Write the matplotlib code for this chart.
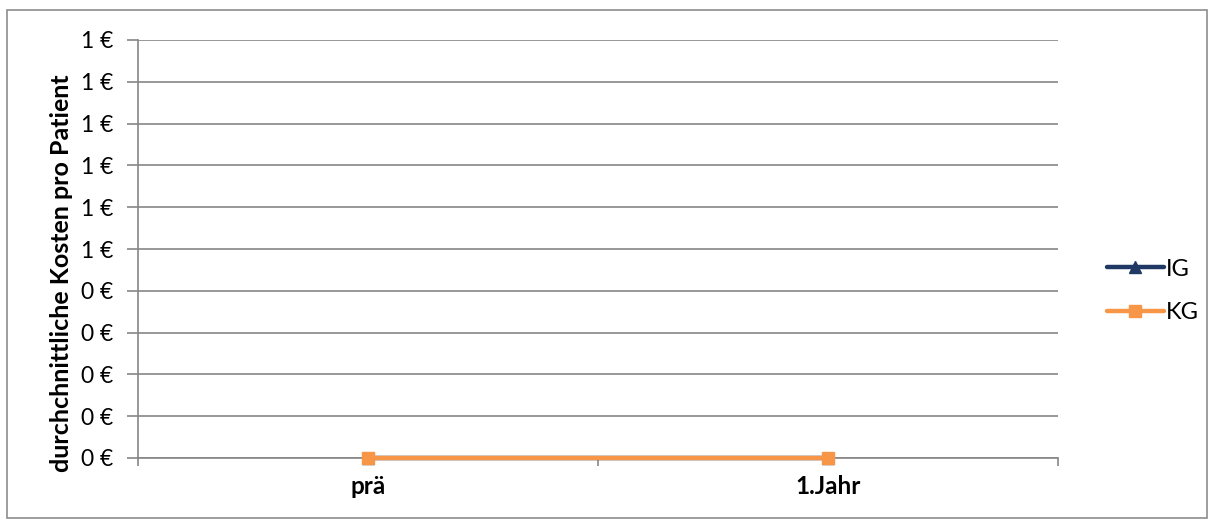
import matplotlib
matplotlib.use('Agg')
import matplotlib.pyplot as plt
from matplotlib.patches import Rectangle

plt.rcParams['font.family'] = ['Lato', 'DejaVu Sans']

categories = ['prä', '1.Jahr']
ig = [0, 0]
kg = [0, 0]
y_ticks = [0.0, 0.1, 0.2, 0.3, 0.4, 0.5, 0.6, 0.7, 0.8, 0.9, 1.0]
y_labels = ['0 €', '0 €', '0 €', '0 €', '0 €', '1 €', '1 €', '1 €', '1 €', '1 €', '1 €']

grid_col = '#868686'

fig = plt.figure(figsize=(12.13, 5.2), dpi=100)
fig.patches.append(Rectangle((7 / 1213, 2 / 520), 1200 / 1213, 508 / 520,
                             transform=fig.transFigure, fill=False,
                             edgecolor='#8c8c8c', linewidth=1.2))
ax = fig.add_axes([138 / 1213, 62 / 520, 920 / 1213, 418 / 520])

x = list(range(len(categories)))
ax.plot(x, ig, color='#1f3864', linewidth=3.2, marker='^', markersize=9,
        label='IG', zorder=3, clip_on=False, solid_capstyle='round')
ax.plot(x, kg, color='#f79646', linewidth=3.2, marker='s', markersize=9,
        label='KG', zorder=4, clip_on=False, solid_capstyle='round')

ax.set_xlim(-0.5, 1.5)
ax.set_ylim(0, 1)
ax.set_yticks(y_ticks)
ax.set_yticklabels(y_labels, fontsize=16.5)
ax.set_xticks(x)
ax.set_xticklabels(categories, fontsize=17.5, fontweight='bold')
ax.tick_params(axis='x', length=0, pad=12)
ax.set_xticks([-0.5, 0.5, 1.5], minor=True)
ax.tick_params(axis='x', which='minor', length=6, color=grid_col, width=1.2, direction='out')
ax.tick_params(axis='y', length=8, color=grid_col, width=1.2, pad=10)

ax.grid(axis='y', color=grid_col, linewidth=1.2)
ax.set_axisbelow(True)
for s in ['top', 'right']:
    ax.spines[s].set_visible(False)
for s in ['left', 'bottom']:
    ax.spines[s].set_color(grid_col)
    ax.spines[s].set_linewidth(1.2)

ax.set_ylabel('durchchnittliche Kosten pro Patient', fontsize=18,
              fontweight='bold')
ax.yaxis.set_label_coords(-0.071, 0.443)

ax.legend(loc='center left', bbox_to_anchor=(1.03, 0.4), frameon=False,
          fontsize=17, handlelength=2.4, labelspacing=0.95, handletextpad=0.1)

fig.savefig('out.png', dpi=100)
